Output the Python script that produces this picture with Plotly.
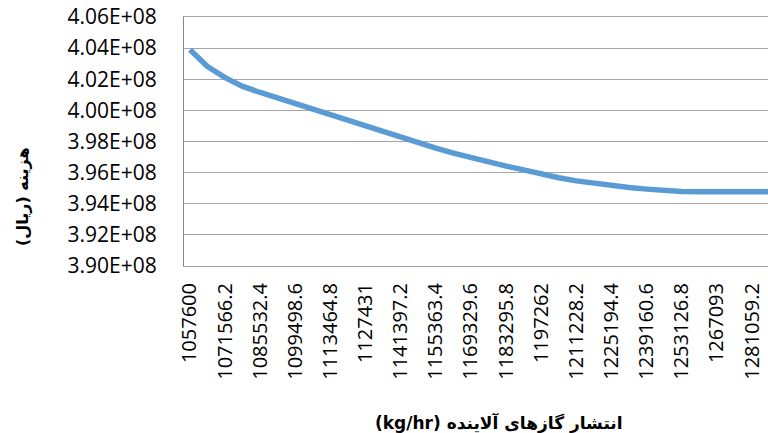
import plotly.graph_objects as go

x_labels = ["1057600", "1064583.1", "1071566.2", "1078549.3", "1085532.4", "1092515.5",
            "1099498.6", "1106481.7", "1113464.8", "1120447.9", "1127431", "1134414.1",
            "1141397.2", "1148380.3", "1155363.4", "1162346.5", "1169329.6", "1176312.7",
            "1183295.8", "1190278.9", "1197262", "1204245.1", "1211228.2", "1218211.3",
            "1225194.4", "1232177.5", "1239160.6", "1246143.7", "1253126.8", "1260109.9",
            "1267093", "1274076.1", "1281059.2", "1288042.3"]
cost = [4.039e8, 4.0282e8, 4.0210e8, 4.0154e8, 4.0115e8, 4.0079e8, 4.0042e8, 4.0008e8,
        3.9965e8, 3.9929e8, 3.9897e8, 3.9864e8, 3.9828e8, 3.9794e8, 3.9758e8, 3.9725e8,
        3.9695e8, 3.9665e8, 3.9642e8, 3.9618e8, 3.9590e8, 3.9567e8, 3.9547e8, 3.9530e8,
        3.9515e8, 3.9504e8, 3.9494e8, 3.9485e8, 3.9479e8, 3.9477e8, 3.9477e8, 3.9477e8,
        3.9477e8, 3.9477e8]
y_ticks = [3.90e8, 3.92e8, 3.94e8, 3.96e8, 3.98e8, 4.00e8, 4.02e8, 4.04e8, 4.06e8]
y_labels = ["3.90E+08", "3.92E+08", "3.94E+08", "3.96E+08", "3.98E+08",
            "4.00E+08", "4.02E+08", "4.04E+08", "4.06E+08"]
y_title = "هزینه (ریال)"
x_title = "(kg/hr) انتشار گازهای آلاینده"

idx = list(range(len(cost)))

L, R, T, B = 184, 0, 17, 167
PW, PH = 768 - L - R, 433 - T - B

fig = go.Figure()
fig.add_trace(go.Scatter(x=idx, y=cost, mode="lines",
                         line=dict(color="#5B9BD5", width=5.5), showlegend=False))

fig.update_layout(
    width=768, height=433,
    margin=dict(l=L, r=R, t=T, b=B),
    paper_bgcolor="white", plot_bgcolor="white",
    font=dict(family="Open Sans", color="black"),
    xaxis=dict(range=[-0.34, 32.91], tickmode="array",
               tickvals=idx[::2], ticktext=x_labels[::2], tickangle=-90,
               tickfont=dict(size=20, family="Open Sans"),
               showgrid=False, zeroline=False, showline=True, mirror=True, automargin=False,
               linecolor="#A6A6A6", linewidth=1, ticks="", ticklabelstandoff=8),
    yaxis=dict(range=[3.90e8, 4.06e8], tickmode="array",
               tickvals=y_ticks, ticktext=y_labels,
               tickfont=dict(size=21, family="Open Sans"),
               showgrid=True, gridcolor="#A6A6A6", gridwidth=1, automargin=False,
               zeroline=False, showline=True, linecolor="#868686", linewidth=1,
               ticks="", ticklabelstandoff=22),
)

fig.add_annotation(text="<b>" + y_title + "</b>", xref="paper", yref="paper",
                   x=(22 - L) / PW, y=(433 - B - 197) / PH, textangle=-90, showarrow=False,
                   font=dict(size=16, family="DejaVu Sans"), xanchor="center", yanchor="middle")
fig.add_annotation(text="<b>" + x_title + "</b>", xref="paper", yref="paper",
                   x=(499 - L) / PW, y=-(422 - (433 - B)) / PH, showarrow=False,
                   font=dict(size=17, family="DejaVu Sans"), xanchor="center", yanchor="middle")

fig.write_html("out.html", config={"displayModeBar": False},
               post_script="document.body.style.margin='0';")
